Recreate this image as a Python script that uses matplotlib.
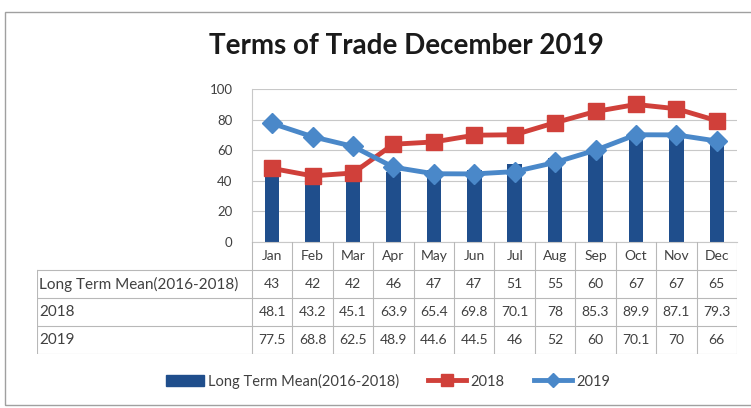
import matplotlib
matplotlib.use('Agg')
import matplotlib.pyplot as plt
from matplotlib.patches import Rectangle, Patch
from matplotlib.lines import Line2D

plt.rcParams['font.family'] = ['Lato', 'DejaVu Sans']

months = ['Jan', 'Feb', 'Mar', 'Apr', 'May', 'Jun', 'Jul', 'Aug', 'Sep', 'Oct', 'Nov', 'Dec']
long_term_mean = [43, 42, 42, 46, 47, 47, 51, 55, 60, 67, 67, 65]
y2018 = [48.1, 43.2, 45.1, 63.9, 65.4, 69.8, 70.1, 78, 85.3, 89.9, 87.1, 79.3]
y2019 = [77.5, 68.8, 62.5, 48.9, 44.6, 44.5, 46, 52, 60, 70.1, 70, 66]
row_names = ['Long Term Mean(2016-2018)', '2018', '2019']
yticks = [0, 20, 40, 60, 80, 100]

W, H = 751, 408
bar_col = '#1f4e8c'
red = '#d0403a'
blue = '#4a88c9'
grid_col = '#c8c8c8'
text_col = '#404040'


def box(x0, y0, x1, y1):
    # pixel box (top-left origin) -> figure fraction rect
    return [x0 / W, 1 - y1 / H, (x1 - x0) / W, (y1 - y0) / H]


fig = plt.figure(figsize=(W / 100, H / 100), dpi=100)
fig.patches.append(Rectangle((5 / W, 1 - 405 / H), 760 / W, 393 / H, transform=fig.transFigure,
                             fill=False, edgecolor='#a0a0a0', linewidth=1))

fig.text(406 / W, 1 - 46 / H, 'Terms of Trade December 2019', ha='center', va='center',
         fontsize=20, fontweight='bold', color='#1a1a1a')

# chart area
ax = fig.add_axes(box(252, 89, 737, 242))
x = list(range(len(months)))
ax.bar(x, long_term_mean, width=0.36, color=bar_col, zorder=2)
ax.plot(x, y2018, color=red, lw=3.5, marker='s', ms=12, zorder=3)
ax.plot(x, y2019, color=blue, lw=3.5, marker='D', ms=10, zorder=4)
ax.set_xlim(-0.5, len(months) - 0.5)
ax.set_ylim(0, 100)
ax.set_yticks(yticks)
ax.set_xticks([])
ax.tick_params(axis='y', length=0, labelsize=9.5, labelcolor=text_col, pad=14)
ax.grid(axis='y', color=grid_col, lw=0.8, zorder=0)
for s in ['top', 'right']:
    ax.spines[s].set_visible(False)
ax.spines['left'].set_color(grid_col)
ax.spines['bottom'].set_color(grid_col)

# data table under the chart
tx = fig.add_axes(box(37, 242, 737, 354))
unit = 485 / len(months)
left = -0.5 - 215 / unit
tx.set_xlim(left, len(months) - 0.5)
tx.set_ylim(0, 4)
tx.axis('off')
lc = dict(color='#b8b8b8', lw=0.8)
for yy in [0, 1, 2, 3]:
    tx.plot([left, len(months) - 0.5], [yy, yy], **lc)
tx.plot([left, left], [0, 3], **lc)
for i in range(len(months) + 1):
    tx.plot([i - 0.5, i - 0.5], [0, 4], **lc)
fs = 10
for i, m in enumerate(months):
    tx.text(i, 3.5, m, ha='center', va='center', fontsize=fs, color=text_col)
rows = [long_term_mean, y2018, y2019]
for r, (name, vals) in enumerate(zip(row_names, rows)):
    yc = 2.5 - r
    tx.text(left + 0.05, yc, name, ha='left', va='center', fontsize=11, color=text_col)
    for i, v in enumerate(vals):
        tx.text(i, yc, f'{v:g}', ha='center', va='center', fontsize=fs, color=text_col)

handles = [Patch(color=bar_col),
           Line2D([], [], color=red, lw=3.5, marker='s', ms=8),
           Line2D([], [], color=blue, lw=3.5, marker='D', ms=7)]
fig.legend(handles, row_names, loc='center', bbox_to_anchor=(388 / W, 1 - 381 / H), ncol=3,
           frameon=False, fontsize=10.5, handlelength=2.6, handletextpad=0.3, columnspacing=2.0,
           labelcolor=text_col)

fig.savefig('out.png', dpi=100)
